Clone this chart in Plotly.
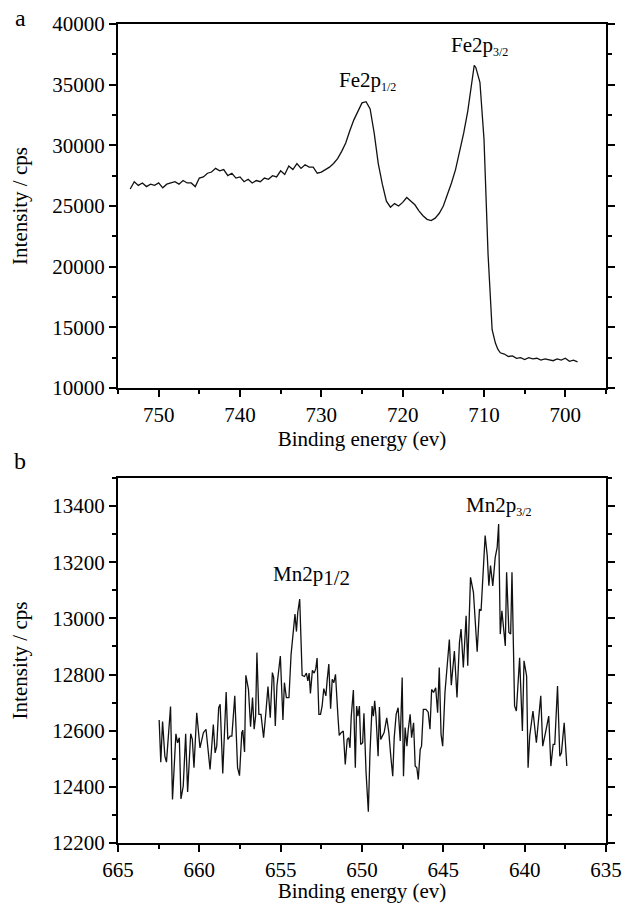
import plotly.graph_objects as go

# ---------------- Panel a: Fe 2p ----------------
fe_energy = [753.5, 753.0, 752.5, 752.0, 751.5, 751.0, 750.5, 750.0, 749.5, 749.0,
             748.5, 748.0, 747.5, 747.0, 746.5, 746.0, 745.5, 745.0, 744.5, 744.0,
             743.5, 743.0, 742.5, 742.0, 741.5, 741.0, 740.5, 740.0, 739.5, 739.0,
             738.5, 738.0, 737.5, 737.0, 736.5, 736.0, 735.5, 735.0, 734.5, 734.0,
             733.5, 733.0, 732.5, 732.0, 731.5, 731.0, 730.5, 730.0, 729.5, 729.0,
             728.5, 728.0, 727.5, 727.0, 726.5, 726.0, 725.5, 725.0, 724.5, 724.0,
             723.5, 723.0, 722.5, 722.0, 721.5, 721.0, 720.5, 720.0, 719.5, 719.0,
             718.5, 718.0, 717.5, 717.0, 716.5, 716.0, 715.5, 715.0, 714.5, 714.0,
             713.5, 713.0, 712.5, 712.0, 711.5, 711.2, 711.0, 710.5, 710.0, 709.5,
             709.0, 708.6, 708.3, 708.0, 707.5, 707.0, 706.5, 706.0, 705.5, 705.0,
             704.5, 704.0, 703.5, 703.0, 702.5, 702.0, 701.5, 701.0, 700.5, 700.0,
             699.5, 699.0, 698.5]
fe_counts = [26400, 27000, 26700, 26900, 26600, 26800, 26700, 26900, 26500, 26800,
             26900, 27000, 26800, 27100, 26900, 26900, 26600, 27300, 27400, 27700,
             27800, 28100, 27900, 28000, 27500, 27700, 27300, 27400, 27000, 27200,
             26900, 27100, 27000, 27300, 27200, 27500, 27400, 27900, 27600, 28300,
             28000, 28500, 28100, 28400, 28200, 28200, 27700, 27800, 28000, 28200,
             28500, 28900, 29500, 30200, 31200, 32100, 32800, 33500, 33600, 33000,
             31000, 28500, 26800, 25400, 24900, 25200, 25000, 25300, 25700, 25400,
             25100, 24600, 24200, 23900, 23800, 24000, 24400, 25000, 25900, 26900,
             28000, 29400, 31000, 32800, 35000, 36600, 36400, 35200, 30500, 21000,
             14800, 13700, 13200, 12900, 12800, 12600, 12650, 12450, 12500, 12350,
             12500, 12400, 12450, 12300, 12400, 12350, 12250, 12400, 12300, 12450,
             12200, 12300, 12150]

# ---------------- Panel b: Mn 2p ----------------
mn_energy = [662.47, 662.37, 662.26, 662.12, 662.02, 661.77, 661.65, 661.44, 661.34, 661.23,
             661.13, 660.99, 660.84, 660.72, 660.53, 660.43, 660.33, 660.16, 659.96, 659.75,
             659.59, 659.34, 659.14, 659.03, 658.93, 658.81, 658.72, 658.56, 658.35, 658.25,
             658.11, 658.00, 657.82, 657.65, 657.53, 657.39, 657.33, 657.22, 657.14, 656.98,
             656.85, 656.73, 656.63, 656.54, 656.46, 656.34, 656.21, 656.05, 655.91, 655.78,
             655.64, 655.51, 655.43, 655.33, 655.23, 655.10, 655.02, 654.86, 654.77, 654.65,
             654.49, 654.36, 654.20, 654.12, 654.03, 653.95, 653.83, 653.68, 653.54, 653.42,
             653.33, 653.25, 653.17, 653.05, 652.94, 652.84, 652.76, 652.65, 652.55, 652.45,
             652.35, 652.22, 652.14, 652.04, 651.93, 651.83, 651.73, 651.63, 651.48, 651.40,
             651.28, 651.15, 651.03, 650.91, 650.82, 650.74, 650.66, 650.53, 650.41, 650.33,
             650.25, 650.16, 650.08, 649.96, 649.88, 649.75, 649.61, 649.51, 649.38, 649.30,
             649.22, 649.14, 649.01, 648.93, 648.85, 648.74, 648.64, 648.48, 648.35, 648.23,
             648.11, 648.02, 647.90, 647.78, 647.65, 647.53, 647.45, 647.35, 647.24, 647.16,
             647.04, 646.95, 646.83, 646.73, 646.63, 646.54, 646.42, 646.34, 646.23, 646.07,
             645.93, 645.82, 645.72, 645.60, 645.47, 645.35, 645.25, 645.14, 645.04, 644.90,
             644.77, 644.63, 644.51, 644.32, 644.16, 644.01, 643.91, 643.77, 643.60, 643.50,
             643.33, 643.15, 642.92, 642.78, 642.68, 642.43, 642.30, 642.20, 642.10, 641.96,
             641.81, 641.69, 641.60, 641.50, 641.40, 641.19, 641.11, 640.97, 640.86, 640.78,
             640.62, 640.51, 640.31, 640.14, 640.04, 639.88, 639.79, 639.69, 639.49, 639.28,
             639.01, 638.89, 638.72, 638.52, 638.39, 638.25, 638.15, 637.98, 637.84, 637.74,
             637.57, 637.41]
mn_counts = [12638, 12488, 12633, 12509, 12488, 12686, 12355, 12589, 12557, 12575,
             12357, 12402, 12589, 12382, 12589, 12569, 12468, 12664, 12539, 12593,
             12605, 12462, 12622, 12521, 12545, 12682, 12694, 12448, 12738, 12569,
             12581, 12581, 12724, 12468, 12440, 12593, 12602, 12524, 12797, 12747,
             12614, 12718, 12605, 12652, 12878, 12658, 12658, 12575, 12664, 12757,
             12646, 12807, 12789, 12617, 12759, 12843, 12866, 12638, 12771, 12718,
             12718, 12872, 12956, 13015, 12953, 13021, 13069, 12797, 12793, 12805,
             12777, 12805, 12733, 12815, 12805, 12821, 12859, 12658, 12658, 12688,
             12750, 12724, 12781, 12837, 12678, 12783, 12771, 12801, 12652, 12583,
             12593, 12599, 12480, 12569, 12575, 12539, 12652, 12745, 12468, 12688,
             12652, 12688, 12551, 12557, 12662, 12450, 12311, 12521, 12688, 12652,
             12706, 12652, 12509, 12684, 12569, 12581, 12593, 12646, 12593, 12509,
             12438, 12575, 12658, 12682, 12563, 12789, 12438, 12611, 12545, 12602,
             12658, 12575, 12628, 12474, 12468, 12426, 12533, 12545, 12676, 12676,
             12666, 12605, 12747, 12736, 12753, 12664, 12825, 12587, 12545, 12736,
             12819, 12925, 12762, 12884, 12718, 12914, 12962, 12825, 13009, 12831,
             13146, 13093, 12881, 13033, 13027, 13295, 13223, 13116, 13188, 13116,
             13217, 13253, 13336, 12944, 13027, 12902, 13164, 12950, 12944, 13164,
             12688, 12670, 12860, 12599, 12849, 12795, 12468, 12581, 12670, 12557,
             12724, 12545, 12593, 12652, 12474, 12551, 12551, 12759, 12509, 12521,
             12628, 12474]

FONT = "Liberation Serif, Times New Roman, serif"
H, W = 903, 622
L, R, T, B = 118, 16, 24, 60
ph = H - T - B


def fy(py):
    return (H - B - py) / ph


def fx(px):
    return (px - L) / (W - L - R)


fig = go.Figure()
fig.add_trace(go.Scatter(x=fe_energy, y=fe_counts, mode="lines",
                         line=dict(color="#111111", width=1.3),
                         xaxis="x", yaxis="y", showlegend=False, hoverinfo="skip"))
fig.add_trace(go.Scatter(x=mn_energy, y=mn_counts, mode="lines",
                         line=dict(color="#111111", width=1.3),
                         xaxis="x2", yaxis="y2", showlegend=False, hoverinfo="skip"))

tickfont = dict(family=FONT, size=21, color="black")
titlefont = dict(family=FONT, size=21, color="black")
common = dict(showline=True, linecolor="black", linewidth=2, showgrid=False,
              zeroline=False, ticks="outside", ticklen=7, tickwidth=1.5,
              tickcolor="black", tickfont=tickfont, autorange=False,
              automargin=False, tickformat="d", ticklabeloverflow="allow")

minor_style = dict(ticks="outside", ticklen=4, tickwidth=1.5, tickcolor="black")

fig.update_layout(
    width=W, height=H,
    margin=dict(l=L, r=R, t=T, b=B, pad=0, autoexpand=False),
    paper_bgcolor="white", plot_bgcolor="white",
    xaxis=dict(common, domain=[0, 1], anchor="y", range=[755, 695],
               tick0=700, dtick=10, mirror=True,
               minor=dict(minor_style, dtick=5, tick0=700),
               title=dict(text="Binding energy (ev)", font=titlefont, standoff=1)),
    yaxis=dict(common, domain=[fy(388), 1], anchor="x", range=[10000, 40000],
               tick0=10000, dtick=5000, mirror="ticks",
               minor=dict(minor_style, dtick=2500, tick0=10000),
               title=dict(text="Intensity / cps", font=titlefont, standoff=19)),
    xaxis2=dict(common, domain=[0, 1], anchor="y2", range=[665, 635],
                tick0=635, dtick=5, mirror=True,
                minor=dict(minor_style, dtick=2.5, tick0=635),
                title=dict(text="Binding energy (ev)", font=titlefont, standoff=1)),
    yaxis2=dict(common, domain=[0, fy(478)], anchor="x2", range=[12200, 13500],
                tick0=12200, dtick=200, mirror="ticks",
                minor=dict(minor_style, dtick=100, tick0=12200),
                title=dict(text="Intensity / cps", font=titlefont, standoff=19)),
)

ann_font = dict(family=FONT, size=21, color="black")
small = "<span style='font-size:12px'>{}</span>"
fig.add_annotation(x=724.3, y=35300, xref="x", yref="y", showarrow=False,
                   text="Fe2p<sub>" + small.format("1/2") + "</sub>", font=ann_font)
fig.add_annotation(x=710.5, y=38200, xref="x", yref="y", showarrow=False,
                   text="Fe2p<sub>" + small.format("3/2") + "</sub>", font=ann_font)
fig.add_annotation(x=653.1, y=13150, xref="x2", yref="y2", showarrow=False,
                   text="Mn2p<sub><span style='font-size:21px'>1/2</span></sub>",
                   font=ann_font)
fig.add_annotation(x=641.6, y=13400, xref="x2", yref="y2", showarrow=False,
                   text="Mn2p<sub>" + small.format("3/2") + "</sub>", font=ann_font)

fig.add_annotation(x=fx(20), y=fy(18), xref="paper", yref="paper",
                   xanchor="center", yanchor="middle",
                   showarrow=False, text="a", font=dict(family=FONT, size=24, color="black"))
fig.add_annotation(x=fx(20), y=fy(461), xref="paper", yref="paper",
                   xanchor="center", yanchor="middle",
                   showarrow=False, text="b", font=dict(family=FONT, size=24, color="black"))

fig.write_html("out.html", config={"displayModeBar": False},
               post_script="document.body.style.margin='0px';")
